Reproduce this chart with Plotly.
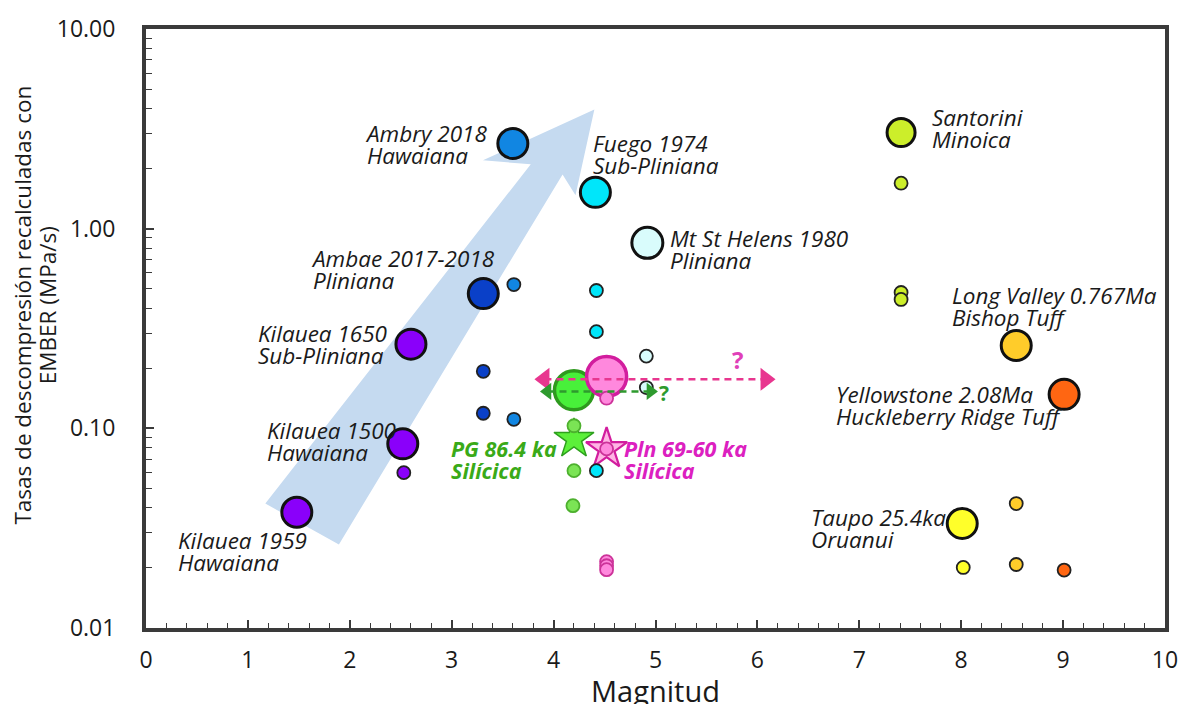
import math
import plotly.graph_objects as go

# ---------------- datos ----------------
# Erupciones de referencia (círculos grandes): magnitud y tasa de descompresión (MPa/s)
event_names = ["Kilauea 1959", "Kilauea 1500", "Kilauea 1650", "Ambae 2017-2018",
               "Ambry 2018", "Fuego 1974", "Mt St Helens 1980", "PG 86.4 ka",
               "Pln 69-60 ka", "Santorini", "Long Valley 0.767Ma",
               "Yellowstone 2.08Ma", "Taupo 25.4ka"]
event_types = ["Hawaiana", "Hawaiana", "Sub-Pliniana", "Pliniana", "Hawaiana",
               "Sub-Pliniana", "Pliniana", "Silícica", "Silícica", "Minoica",
               "Bishop Tuff", "Huckleberry Ridge Tuff", "Oruanui"]
event_mag = [1.48, 2.52, 2.60, 3.31, 3.60, 4.41, 4.92, 4.20, 4.52, 7.41, 8.54, 9.01, 8.01]
event_rate = [0.038, 0.0836, 0.264, 0.473, 2.67, 1.52, 0.849, 0.155, 0.182,
              3.03, 0.26, 0.148, 0.0334]

# Estimaciones adicionales (círculos pequeños), asociadas a cada erupción
sample_event = ["Kilauea 1500",
                "Ambry 2018", "Ambae 2017-2018", "Ambae 2017-2018", "Ambry 2018",
                "Fuego 1974", "Fuego 1974", "Fuego 1974",
                "Mt St Helens 1980", "Mt St Helens 1980",
                "PG 86.4 ka", "PG 86.4 ka", "PG 86.4 ka",
                "Pln 69-60 ka", "Pln 69-60 ka", "Pln 69-60 ka", "Pln 69-60 ka", "Pln 69-60 ka",
                "Santorini", "Santorini", "Santorini",
                "Long Valley 0.767Ma", "Long Valley 0.767Ma",
                "Yellowstone 2.08Ma", "Taupo 25.4ka"]
sample_mag = [2.53,
              3.61, 3.31, 3.31, 3.61,
              4.42, 4.42, 4.42,
              4.91, 4.91,
              4.20, 4.20, 4.19,
              4.52, 4.52, 4.52, 4.52, 4.52,
              7.41, 7.41, 7.41,
              8.54, 8.54,
              9.01, 8.02]
sample_rate = [0.060,
               0.525, 0.193, 0.119, 0.111,
               0.49, 0.305, 0.0614,
               0.23, 0.16,
               0.103, 0.0614, 0.041,
               0.1416, 0.0789, 0.0215, 0.0205, 0.0196,
               1.69, 0.479, 0.442,
               0.042, 0.0208,
               0.0195, 0.0201]

# Estimaciones de este trabajo (estrellas)
star_event = ["PG 86.4 ka", "Pln 69-60 ka"]
star_mag = [4.20, 4.52]
star_rate = [0.0885, 0.0789]

# Rangos de magnitud inciertos (flechas discontinuas con "?")
pln_range_mag = [3.91, 6.08]
pln_range_rate = [0.176, 0.176]
pg_range_mag = [3.94, 4.95]
pg_range_rate = [0.153, 0.153]

# Flecha de tendencia (vértices del polígono en magnitud / MPa/s)
trend_mag = [1.171, 3.776, 3.307, 4.40, 4.215, 4.088, 1.893]
trend_rate = [0.0420, 2.10, 2.20, 3.95, 1.47, 1.87, 0.0262]

x_ticks = [0, 1, 2, 3, 4, 5, 6, 7, 8, 9, 10]
y_tick_vals = [0.01, 0.1, 1, 10]
y_tick_text = ["0.01", "0.10", "1.00", "10.00"]

# ---------------- estilos ----------------
FONT = "Open Sans"
TXT = "#1a1a1a"
fill = {
    "Kilauea 1959": "#8a00fa", "Kilauea 1500": "#8a00fa", "Kilauea 1650": "#8a00fa",
    "Ambae 2017-2018": "#0a40c8", "Ambry 2018": "#1186e2", "Fuego 1974": "#00e6fa",
    "Mt St Helens 1980": "#d9fcfc", "PG 86.4 ka": "#48f03a", "Pln 69-60 ka": "#ff88dd",
    "Santorini": "#ccee2a", "Long Valley 0.767Ma": "#ffcc2a",
    "Yellowstone 2.08Ma": "#ff6612", "Taupo 25.4ka": "#ffff2a",
}
small_fill = dict(fill)
small_fill.update({"PG 86.4 ka": "#7be455", "Pln 69-60 ka": "#ff88dd"})
edge = {k: "#111111" for k in fill}
edge.update({"PG 86.4 ka": "#2e9a1e", "Pln 69-60 ka": "#d21d9e"})
small_edge = {k: "#222222" for k in fill}
small_edge.update({"PG 86.4 ka": "#4db02e", "Pln 69-60 ka": "#cc3399"})

big_size = {k: 30 for k in fill}
big_size.update({"PG 86.4 ka": 39, "Pln 69-60 ka": 40, "Mt St Helens 1980": 31,
                 "Santorini": 28})

fig = go.Figure()

# flecha de tendencia
fig.add_trace(go.Scatter(
    x=trend_mag, y=trend_rate, mode="lines", fill="toself",
    fillcolor="#c5daf0", line=dict(width=0, color="#c5daf0"),
    hoverinfo="skip", showlegend=False))

# círculos grandes
fig.add_trace(go.Scatter(
    x=event_mag, y=event_rate, mode="markers", text=event_names,
    marker=dict(size=[big_size[n] for n in event_names], opacity=1,
                color=[fill[n] for n in event_names],
                line=dict(color=[edge[n] for n in event_names],
                          width=[3.5 if n in ("PG 86.4 ka", "Pln 69-60 ka") else 3
                                 for n in event_names])),
    showlegend=False))

# estrellas
fig.add_trace(go.Scatter(
    x=star_mag, y=star_rate, mode="markers", text=star_event,
    marker=dict(symbol="star", size=[30, 31], opacity=1,
                color=["#5cf03a", "rgba(255,120,205,0.55)"],
                line=dict(color=["#2ea01e", "#d21d9e"], width=[1.5, 2.2])),
    showlegend=False))

# círculos pequeños
fig.add_trace(go.Scatter(
    x=sample_mag, y=sample_rate, mode="markers", text=sample_event,
    marker=dict(size=13, opacity=1, color=[small_fill[n] for n in sample_event],
                line=dict(color=[small_edge[n] for n in sample_event], width=1.8)),
    showlegend=False))

# rangos inciertos
for rx, ry, col, w, asz in [(pln_range_mag, pln_range_rate, "#e8368f", 2.6, 20),
                             (pg_range_mag, pg_range_rate, "#2e9a2e", 2.4, 15)]:
    fig.add_trace(go.Scatter(
        x=rx, y=ry, mode="lines", line=dict(color=col, width=w, dash="7px,5px"),
        hoverinfo="skip", showlegend=False))
    fig.add_trace(go.Scatter(
        x=rx, y=ry, mode="markers",
        marker=dict(symbol=["triangle-left", "triangle-right"], size=asz, color=col,
                    opacity=1, line=dict(width=0)),
        hoverinfo="skip", showlegend=False))

# etiquetas de las erupciones: borde izquierdo y centro vertical (magnitud, MPa/s)
label_pos = {
    "Ambry 2018": (2.14, 2.64),
    "Fuego 1974": (4.38, 2.35),
    "Mt St Helens 1980": (5.13, 0.784),
    "Ambae 2017-2018": (1.61, 0.622),
    "Kilauea 1650": (1.09, 0.262),
    "Kilauea 1500": (1.18, 0.0855),
    "Kilauea 1959": (0.30, 0.0241),
    "Santorini": (7.70, 3.17),
    "Long Valley 0.767Ma": (7.90, 0.409),
    "Yellowstone 2.08Ma": (6.76, 0.1294),
    "Taupo 25.4ka": (6.52, 0.0315),
    "PG 86.4 ka": (2.98, 0.0696),
    "Pln 69-60 ka": (4.68, 0.0696),
}
label_color = {"PG 86.4 ka": "#3aaa18", "Pln 69-60 ka": "#dc20c0"}
# el tamaño base (17 px) fija un interlineado compacto; el texto va a 22.5 px
BASE, BIG, BOLD = 17, 22.5, 21.5
for name, kind in zip(event_names, event_types):
    lx, lr = label_pos[name]
    bold = name in label_color
    sz = BOLD if bold else BIG
    lines = []
    for line in (name, kind):
        t = "<span style='font-size:%spx'>%s</span>" % (sz, line)
        lines.append("<b>%s</b>" % t if bold else t)
    fig.add_annotation(
        x=lx, y=math.log10(lr), xref="x", yref="y", text="<br>".join(lines),
        showarrow=False, xanchor="left", yanchor="middle", align="left", borderpad=0,
        font=dict(family=FONT, size=BASE, style="italic",
                  color=label_color.get(name, TXT)))

fig.add_annotation(x=5.80, y=math.log10(0.222), text="<b>?</b>", showarrow=False,
                   font=dict(family=FONT, size=24, color="#e040b8"))
fig.add_annotation(x=5.08, y=math.log10(0.150), text="<b>?</b>", showarrow=False,
                   font=dict(family=FONT, size=21, color="#2e9a2e"))

# título del eje y (dos líneas, interlineado de 25 px)
fig.add_annotation(
    xref="paper", yref="paper", x=-0.1085, y=0.539, showarrow=False, textangle=-90,
    text=("<span style='font-size:22.5px'>Tasas de descompresión recalculadas con</span>"
          "<br><span style='font-size:22.5px'>EMBER (MPa/s)</span>"),
    font=dict(family=FONT, size=19.2, color=TXT), xanchor="center", yanchor="middle")

# título del eje x
fig.add_annotation(xref="paper", yref="paper", x=0.5, y=-0.104, showarrow=False,
                   text="Magnitud", font=dict(family=FONT, size=29, color=TXT),
                   xanchor="center", yanchor="middle")

axis_common = dict(showline=True, linewidth=4, linecolor="#3a3a3a", mirror=True,
                   showgrid=False, zeroline=False, ticks="inside", tickwidth=1.5,
                   tickcolor="#3a3a3a")

fig.update_xaxes(
    range=[0, 10], tickvals=x_ticks, ticklen=8,
    minor=dict(dtick=0.2, ticks="inside", ticklen=5, tickcolor="#3a3a3a", tickwidth=1.2),
    tickfont=dict(family=FONT, size=23, color=TXT), ticklabelstandoff=8,
    **axis_common)
fig.update_yaxes(
    type="log", range=[-2, 1], tickvals=y_tick_vals, ticktext=y_tick_text, ticklen=8,
    minor=dict(ticks="inside", ticklen=6, tickcolor="#3a3a3a", tickwidth=1.2, dtick="D1"),
    tickfont=dict(family=FONT, size=23, color=TXT), ticklabelstandoff=22,
    **axis_common)

fig.update_layout(
    width=1190, height=704, margin=dict(l=146, r=13, t=26, b=76),
    paper_bgcolor="white", plot_bgcolor="white", showlegend=False,
    font=dict(family=FONT))

fig.write_html("out.html")
